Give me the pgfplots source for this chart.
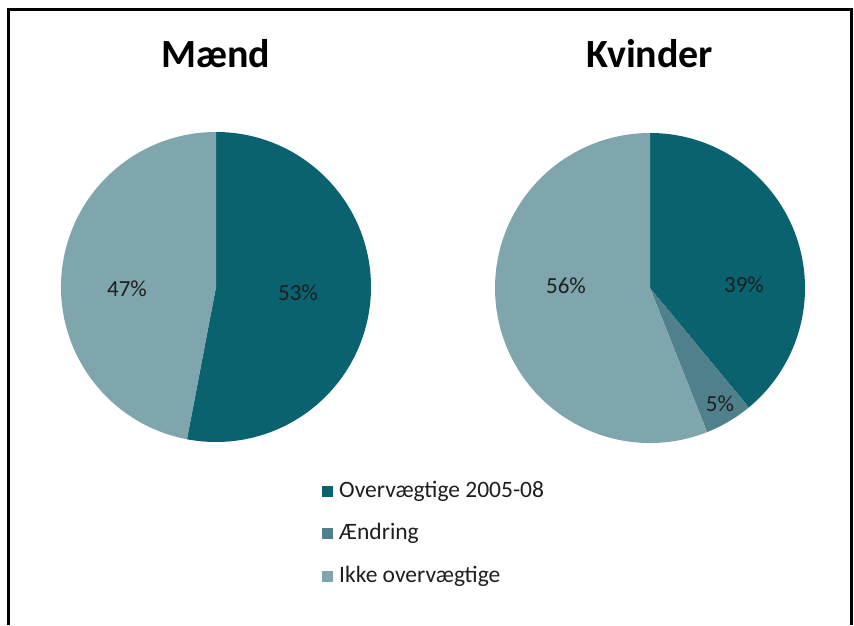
\documentclass[border=0pt]{standalone}
\usepackage{pgfplots}
\pgfplotsset{compat=1.18}
\usepackage{pgfplotstable}
\usepackage{fontspec}
\setmainfont{Carlito}
\definecolor{c0}{RGB}{10,98,110}
\definecolor{c1}{RGB}{79,128,140}
\definecolor{c2}{RGB}{127,165,173}
\definecolor{txt}{RGB}{30,30,30}

\pgfplotstableread{
label value
Overvaegtige 53
Aendring 0
Ikke 47
}\maend
\pgfplotstableread{
label value
Overvaegtige 39
Aendring 5
Ikke 56
}\kvinder

\newcommand\drawpie[3]{%
  \def\startang{90}%
  \pgfplotsforeachungrouped \i in {0,1,2}{%
    \pgfplotstablegetelem{\i}{value}\of{#1}\let\v\pgfplotsretval
    \pgfmathsetmacro\endang{\startang-3.6*\v}%
    \edef\temp{\noexpand\fill[c\i] (axis cs:#2,#3) -- ++(\startang:155pt) arc[start angle=\startang, end angle=\endang, radius=155pt] -- cycle;}%
    \temp
    \let\startang\endang
  }%
}

\begin{document}
\begin{tikzpicture}
\useasboundingbox (0,0) rectangle (854pt,625pt);
\begin{axis}[
  at={(0,0)}, anchor=south west,
  width=854pt, height=625pt, scale only axis,
  xmin=0, xmax=854, ymin=0, ymax=625,
  hide axis, clip=false,
]
\drawpie{\maend}{216}{338}
\drawpie{\kvinder}{650}{337}

% frame
\draw[line width=3pt, black] (axis cs:8,0) -- (axis cs:8,615) -- (axis cs:851,615) -- (axis cs:851,0);

% titles
\node[font=\fontsize{40}{48}\selectfont\bfseries, text=black] at (axis cs:216,571) {Mænd};
\node[font=\fontsize{40}{48}\selectfont\bfseries, text=black] at (axis cs:650,571) {Kvinder};

% data labels
\node[font=\fontsize{23}{28}\selectfont, text=txt] at (axis cs:127,336) {47\%};
\node[font=\fontsize{23}{28}\selectfont, text=txt] at (axis cs:298,332) {53\%};
\node[font=\fontsize{23}{28}\selectfont, text=txt] at (axis cs:566,339) {56\%};
\node[font=\fontsize{23}{28}\selectfont, text=txt] at (axis cs:744,340) {39\%};
\node[font=\fontsize{23}{28}\selectfont, text=txt] at (axis cs:720,221) {5\%};

% legend
\fill[c0] (axis cs:322,128.5) rectangle (axis cs:333,139.5);
\fill[c1] (axis cs:322,86.5) rectangle (axis cs:333,97.5);
\fill[c2] (axis cs:322,43.5) rectangle (axis cs:333,54.5);
\node[anchor=west, inner sep=0pt, font=\fontsize{23.5}{28}\selectfont, text=txt] at (axis cs:339,134) {Overvægtige 2005-08};
\node[anchor=west, inner sep=0pt, font=\fontsize{23.5}{28}\selectfont, text=txt] at (axis cs:339,92) {Ændring};
\node[anchor=west, inner sep=0pt, font=\fontsize{23.5}{28}\selectfont, text=txt] at (axis cs:339,49) {Ikke overvægtige};
\end{axis}
\end{tikzpicture}
\end{document}
